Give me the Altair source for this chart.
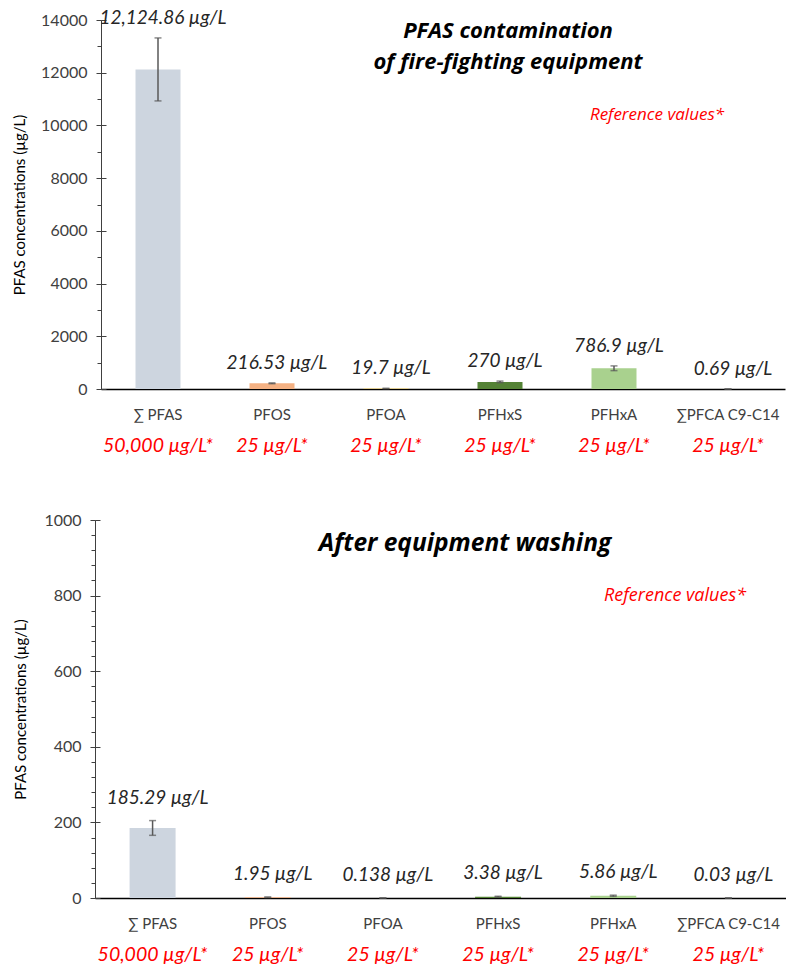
import altair as alt
import pandas as pd

# ---------------- data ----------------
categories = ["∑ PFAS", "PFOS", "PFOA", "PFHxS", "PFHxA", "∑PFCA C9-C14"]
reference_values = ["50,000 µg/L*", "25 µg/L*", "25 µg/L*", "25 µg/L*", "25 µg/L*", "25 µg/L*"]
bar_colors = ["#CDD5DF", "#F4B183", "#FFD966", "#548235", "#A9D18E", "#9DC3E6"]

before_values = [12124.86, 216.53, 19.7, 270.0, 786.9, 0.69]
before_errors = [1195.0, 15.0, 4.0, 30.0, 90.0, 0.2]
before_labels = ["12,124.86 µg/L", "216.53 µg/L", "19.7 µg/L", "270 µg/L", "786.9 µg/L", "0.69 µg/L"]

after_values = [185.29, 1.95, 0.138, 3.38, 5.86, 0.03]
after_errors = [19.5, 0.8, 0.05, 1.2, 1.6, 0.01]
after_labels = ["185.29 µg/L", "1.95 µg/L", "0.138 µg/L", "3.38 µg/L", "5.86 µg/L", "0.03 µg/L"]

top_title = "PFAS contamination\nof fire-fighting equipment"
bottom_title = "After equipment washing"
ref_note = "Reference values*"
y_title = "PFAS concentrations (µg/L)"

FONT = "Lato"
TITLE_FONT = "Open Sans"
AXIS_GREY = "#404040"


def js_list(items):
    return "[" + ",".join("'" + s + "'" for s in items) + "]"


ref_expr = js_list(reference_values) + "[indexof(" + js_list(categories) + ", datum.value)]"


def panel(values, errors, labels, ymax, ystep, minor_step, width, height, inset,
          title_text, title_size, title_x, title_y, note_size, note_x, note_y,
          label_dy, bar_size, title_padding):
    df = pd.DataFrame({
        "category": categories,
        "value": values,
        "lo": [max(v - e, 0) for v, e in zip(values, errors)],
        "hi": [v + e for v, e in zip(values, errors)],
        "label": labels,
    })
    major = list(range(0, ymax + 1, ystep))
    minor = list(range(0, ymax + 1, minor_step))
    yscale = alt.Scale(domain=[0, ymax], nice=False)
    xscale = alt.Scale(domain=categories, paddingInner=0, paddingOuter=0,
                       range=[inset, width])

    base = alt.Chart(df)

    x_main = alt.X("category:N", sort=categories, scale=xscale, title=None,
                   axis=alt.Axis(orient="bottom", labelAngle=0, ticks=False, tickSize=0,
                                 labelFont=FONT, labelFontSize=15, labelColor=AXIS_GREY,
                                 labelPadding=18, domainColor="#000000", domainWidth=1.5,
                                 grid=False, labelLimit=0))
    x_ref = alt.X("category:N", sort=categories, scale=xscale, title=None,
                  axis=alt.Axis(orient="bottom", ticks=False, tickSize=0, domain=False,
                                labelAngle=0, labelFont=FONT, labelFontSize=19.5,
                                labelFontStyle="italic", labelColor="#FF0000",
                                labelPadding=47, labelExpr=ref_expr, grid=False,
                                labelLimit=0))
    x_none = alt.X("category:N", sort=categories, scale=xscale, axis=None)

    bars = base.mark_bar(size=bar_size).encode(
        x=x_main,
        y=alt.Y("value:Q", scale=yscale,
                axis=alt.Axis(orient="left", values=major, format="d", grid=False,
                              tickSize=5, tickColor=AXIS_GREY, domainColor=AXIS_GREY,
                              labelFont=FONT, labelFontSize=16, labelColor=AXIS_GREY,
                              labelPadding=9, title=y_title, titleFont=FONT,
                              titleFontSize=15, titleFontWeight="normal",
                              titleColor="#000000", titlePadding=title_padding,
                              offset=-inset)),
        color=alt.Color("category:N", scale=alt.Scale(domain=categories, range=bar_colors),
                        legend=None),
    )
    err = base.mark_rule(color="#595959", strokeWidth=1.5).encode(
        x=x_ref,
        y=alt.Y("lo:Q", scale=yscale,
                axis=alt.Axis(orient="left", values=minor, labels=False, domain=False,
                              grid=False, tickSize=4, tickColor=AXIS_GREY, title=None,
                              offset=-inset)),
        y2="hi:Q",
    )
    cap_hi = base.mark_tick(color="#595959", size=7, thickness=1.5).encode(
        x=x_none,
        y=alt.Y("hi:Q", scale=yscale,
                axis=alt.Axis(orient="left", values=major, labels=False, domain=False,
                              grid=False, tickSize=5, tickColor=AXIS_GREY,
                              offset=-inset - 5, title=None)),
    )
    cap_lo = base.mark_tick(color="#595959", size=7, thickness=1.5).encode(
        x=x_none,
        y=alt.Y("lo:Q", scale=yscale, axis=None),
    )
    text = base.mark_text(font=FONT, fontSize=19, fontStyle="italic", color="#262626",
                          baseline="middle", dy=label_dy, dx=5).encode(
        x=x_none,
        y=alt.Y("hi:Q", scale=yscale, axis=None),
        text="label:N",
    )
    title = alt.Chart(pd.DataFrame({"t": [title_text]})).mark_text(
        font=TITLE_FONT, fontSize=title_size, fontWeight="bold", fontStyle="italic",
        color="#000000", lineBreak="\n", lineHeight=31, baseline="middle", align="center",
    ).encode(x=alt.value(title_x), y=alt.value(title_y), text="t:N")
    note = alt.Chart(pd.DataFrame({"t": [ref_note]})).mark_text(
        font=TITLE_FONT, fontSize=note_size, fontStyle="italic", color="#FF0000",
        baseline="middle", align="center",
    ).encode(x=alt.value(note_x), y=alt.value(note_y), text="t:N")

    return alt.layer(bars, err, cap_hi, cap_lo, text, title, note).resolve_axis(
        x="independent", y="independent"
    ).properties(width=width, height=height)


top = panel(before_values, before_errors, before_labels, 14000, 2000, 1000, 690, 369, 6,
            top_title, 22, 413, 11, 17, 562, 95, -20, 45, 13)
bottom = panel(after_values, after_errors, after_labels, 1000, 200, 40, 691, 378, 0,
               bottom_title, 24.5, 370, 24, 18, 580, 76, -23, 46, 15)

chart = alt.vconcat(top, bottom, spacing=57).properties(
    padding={"left": 12, "top": 8, "right": 0, "bottom": 2}
).configure_view(stroke=None)

chart.save("out.html", embed_options={"renderer": "svg", "actions": False})
